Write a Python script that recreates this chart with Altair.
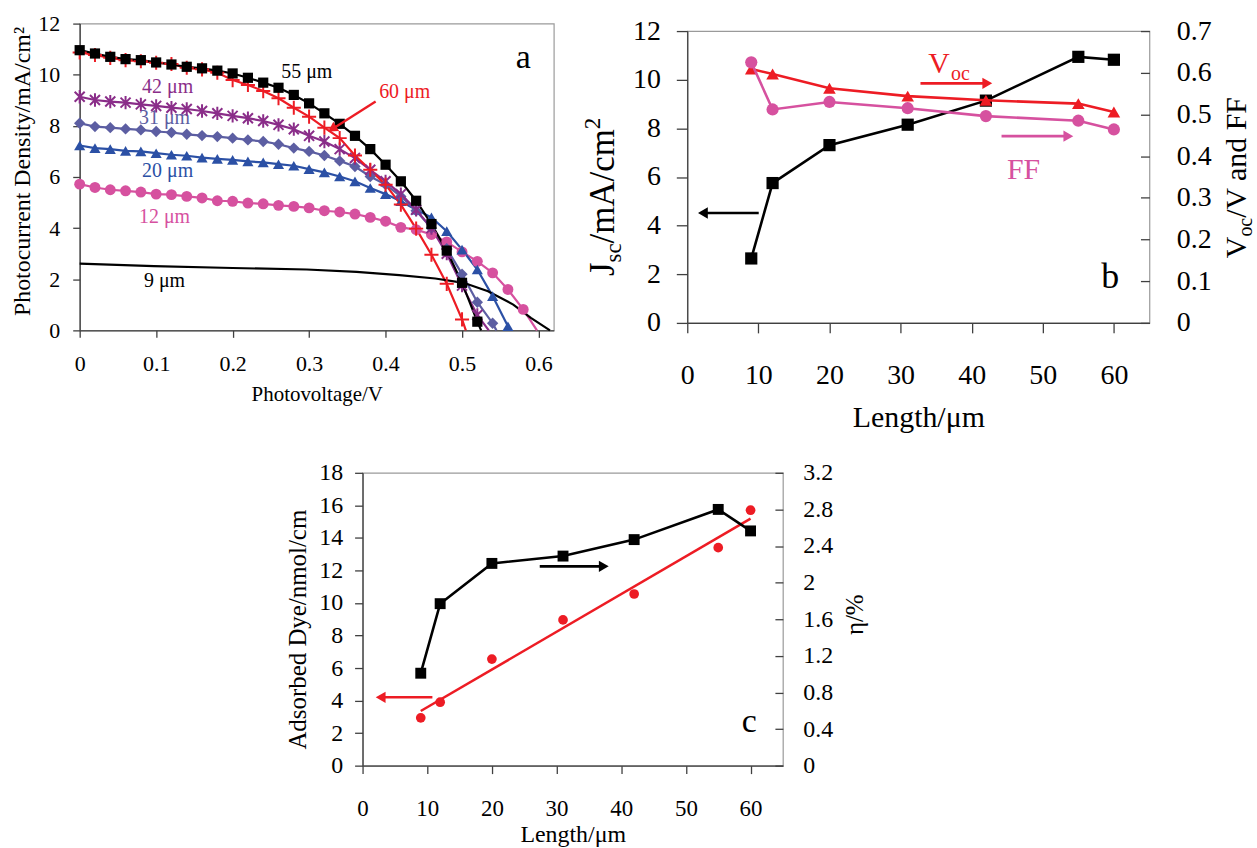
import math
import altair as alt
import pandas as pd

FONT = "Liberation Serif"
BLACK = "#000000"
RED = "#ED1C24"
PURPLE = "#8A2D89"
SLATE = "#5C5EA2"
BLUE = "#2B50A5"
PINK = "#D6519F"
AXIS = "#404040"
BORDER = "#9A9A9A"

# ---------------- panel a data ----------------
V_STEPS = [0.00, 0.02, 0.04, 0.06, 0.08, 0.10, 0.12, 0.14, 0.16, 0.18, 0.20,
           0.22, 0.24, 0.26, 0.28, 0.30, 0.32, 0.34, 0.36, 0.38, 0.40,
           0.42, 0.44, 0.46, 0.48, 0.50, 0.52, 0.54, 0.56, 0.58]
J_55 = [10.96, 10.83, 10.70, 10.61, 10.57, 10.48, 10.40, 10.31, 10.25, 10.16, 10.05,
        9.88, 9.69, 9.49, 9.21, 8.88, 8.49, 8.08, 7.61, 7.09, 6.48,
        5.83, 5.07, 4.16, 3.12, 1.86, 0.34]
J_60 = [10.87, 10.77, 10.66, 10.57, 10.53, 10.47, 10.42, 10.27, 10.21, 10.08, 9.79,
        9.60, 9.36, 9.08, 8.71, 8.36, 7.93, 7.52, 6.84, 6.28, 5.70,
        4.92, 3.98, 2.96, 1.82, 0.43]
J_42 = [9.14, 9.01, 8.95, 8.91, 8.84, 8.78, 8.71, 8.66, 8.58, 8.49, 8.39,
        8.30, 8.19, 8.04, 7.87, 7.61, 7.39, 7.09, 6.74, 6.28, 5.83,
        5.33, 4.72, 4.00, 3.00, 1.75, 0.60]
J_31 = [8.10, 7.97, 7.93, 7.88, 7.84, 7.78, 7.74, 7.67, 7.62, 7.58, 7.52,
        7.45, 7.39, 7.28, 7.13, 7.00, 6.84, 6.63, 6.41, 6.02, 5.70,
        5.24, 4.68, 4.00, 3.20, 2.20, 1.10, 0.28]
J_20 = [7.23, 7.13, 7.09, 7.02, 7.00, 6.93, 6.87, 6.83, 6.76, 6.71, 6.67,
        6.61, 6.57, 6.50, 6.44, 6.31, 6.18, 6.02, 5.83, 5.57, 5.33,
        5.05, 4.72, 4.42, 3.88, 3.16, 2.38, 1.34, 0.16]
J_12 = [5.72, 5.59, 5.50, 5.46, 5.41, 5.33, 5.31, 5.24, 5.18, 5.07, 5.05,
        4.98, 4.95, 4.89, 4.85, 4.79, 4.68, 4.63, 4.55, 4.42, 4.27,
        4.03, 3.94, 3.75, 3.46, 3.07, 2.70, 2.25, 1.60, 0.82]
VOC_A = {"55 μm": 0.525, "60 μm": 0.505, "42 μm": 0.535, "31 μm": 0.545,
         "20 μm": 0.562, "12 μm": 0.598}
V_9 = [0.0, 0.097, 0.2, 0.297, 0.362, 0.418, 0.465, 0.502, 0.534, 0.567, 0.59, 0.615]
J_9 = [2.61, 2.51, 2.44, 2.38, 2.29, 2.16, 2.03, 1.86, 1.53, 1.01, 0.49, 0.0]

A_LABELS = ["55 μm", "60 μm", "42 μm", "31 μm", "20 μm", "12 μm", "9 μm"]
A_LABEL_V = [0.297, 0.425, 0.115, 0.111, 0.115, 0.111, 0.111]
A_LABEL_J = [10.12, 9.31, 9.53, 8.30, 6.24, 4.42, 1.92]

# ---------------- panel b data ----------------
LENGTH = [9, 12, 20, 31, 42, 55, 60]
JSC = [2.65, 5.75, 7.31, 8.15, 9.14, 10.94, 10.82]
VOC = [0.609, 0.597, 0.563, 0.544, 0.534, 0.526, 0.506]
FF = [0.625, 0.512, 0.530, 0.515, 0.496, 0.485, 0.464]

# ---------------- panel c data ----------------
DYE = [2.94, 3.90, 6.55, 8.96, 10.55, 13.40, 15.70]
ETA = [1.01, 1.77, 2.21, 2.29, 2.47, 2.80, 2.565]

A_XTICKS = [0, 0.1, 0.2, 0.3, 0.4, 0.5, 0.6]
A_YTICKS = [0, 2, 4, 6, 8, 10, 12]
L_TICKS = [0, 10, 20, 30, 40, 50, 60]
B_RTICKS = [0, 0.1, 0.2, 0.3, 0.4, 0.5, 0.6, 0.7]
C_YTICKS = [0, 2, 4, 6, 8, 10, 12, 14, 16, 18]
C_RTICKS = [0, 0.4, 0.8, 1.2, 1.6, 2.0, 2.4, 2.8, 3.2]

W_A, H_A = 476, 308
W_B, H_B = 464, 293
W_C, H_C = 422, 294

CHAR_W = {"J": 0.389, "s": 0.389, "c": 0.444, "/": 0.278, "m": 0.778, "A": 0.722,
          "2": 0.5, "²": 0.3, "V": 0.722, "o": 0.5, " ": 0.25, "a": 0.444, "n": 0.5,
          "d": 0.5, "F": 0.556}


def text_width(s, size):
    return sum(CHAR_W.get(ch, 0.5) for ch in s) * size


def one(**kw):
    return pd.DataFrame([kw])


def rotated_title(pieces, x_base, y_start):
    layers = []
    y = y_start
    for txt, size, shift in pieces:
        layers.append(
            alt.Chart(one(t=txt)).mark_text(font=FONT, fontSize=size, angle=270, align="left",
                                            baseline="alphabetic", color="black")
            .encode(x=alt.value(x_base + shift), y=alt.value(y), text="t:N"))
        y -= text_width(txt, size)
    return layers


# ================= panel a =================
xa = alt.X("V:Q", scale=alt.Scale(domain=[0, 0.62], nice=False, zero=False),
           axis=alt.Axis(values=A_XTICKS, format="~g", title="Photovoltage/V", tickSize=7,
                         labelPadding=16, labelFontSize=22, titleFontSize=21, titleY=64,
                         titleBaseline="middle"))
ya = alt.Y("J:Q", scale=alt.Scale(domain=[0, 12], nice=False),
           axis=alt.Axis(values=A_YTICKS, title="Photocurrent Density/mA/cm²", tickSize=7,
                         labelPadding=13, labelFontSize=22, titleFontSize=24, titleAngle=270,
                         titleX=-57, titleY=148, titleAlign="center", titleBaseline="middle"))

A_SERIES = [
    ("12 μm", J_12, PINK, dict(shape="circle", filled=True, size=120)),
    ("20 μm", J_20, BLUE, dict(shape="triangle-up", filled=True, size=125)),
    ("31 μm", J_31, SLATE, dict(shape="diamond", filled=True, size=130)),
    ("42 μm", J_42, PURPLE, dict(shape="M0,-1L0,1M-0.75,-0.75L0.75,0.75M-0.75,0.75L0.75,-0.75",
                                 filled=False, size=180, strokeWidth=2)),
    ("60 μm", J_60, RED, dict(shape="M-1,0L1,0M0,-1L0,1", filled=False, size=200, strokeWidth=2)),
    ("55 μm", J_55, BLACK, dict(shape="square", filled=True, size=105)),
]

line_rows, pt_rows = [], []
for name, js, col, _ in A_SERIES:
    for v, j in zip(V_STEPS, js):
        line_rows.append(dict(s=name, V=v, J=j))
        pt_rows.append(dict(s=name, V=v, J=j))
    line_rows.append(dict(s=name, V=VOC_A[name], J=0.0))
for v, j in zip(V_9, J_9):
    line_rows.append(dict(s="9 μm", V=v, J=j))
df_a_lines = pd.DataFrame(line_rows)
df_a_pts = pd.DataFrame(pt_rows)

a_names = [s[0] for s in A_SERIES] + ["9 μm"]
a_cols = [s[2] for s in A_SERIES] + [BLACK]

a_label_cols = [BLACK, RED, PURPLE, SLATE, BLUE, PINK, BLACK]
df_a_lab = pd.DataFrame({"t": A_LABELS, "V": A_LABEL_V, "J": A_LABEL_J, "c": a_label_cols})

a_layers = [
    alt.Chart(df_a_lab).mark_text(font=FONT, fontSize=20, align="center", baseline="middle")
    .encode(x=xa, y=ya, text="t:N", color=alt.Color("c:N", scale=None)),
    alt.Chart(df_a_lines).mark_line(strokeWidth=2.2).encode(
        x=xa, y=ya,
        color=alt.Color("s:N", scale=alt.Scale(domain=a_names, range=a_cols), legend=None)),
]
for name, js, col, spec in A_SERIES:
    sub = df_a_pts[df_a_pts.s == name]
    if spec["filled"]:
        mk = alt.Chart(sub).mark_point(shape=spec["shape"], filled=True, size=spec["size"],
                                       color=col, opacity=1)
    else:
        mk = alt.Chart(sub).mark_point(shape=spec["shape"], filled=False, size=spec["size"],
                                       stroke=col, strokeWidth=spec["strokeWidth"], opacity=1)
    a_layers.append(mk.encode(x=xa, y=ya))

# arrow for 60 um label
ARR_A = dict(V=0.387, J=8.95, V2=0.332, J2=7.91)
px_x = W_A / 0.62
px_y = H_A / 12
ddx = (ARR_A["V2"] - ARR_A["V"]) * px_x
ddy = -(ARR_A["J2"] - ARR_A["J"]) * px_y
head_angle = (math.degrees(math.atan2(ddx, -ddy)) + 360) % 360
a_layers.append(alt.Chart(one(**ARR_A)).mark_rule(color=RED, strokeWidth=2.4)
                .encode(x=xa, y=ya, x2="V2:Q", y2="J2:Q"))
a_layers.append(alt.Chart(one(V=ARR_A["V2"], J=ARR_A["J2"])).mark_point(
    shape="triangle", filled=True, size=120, color=RED, opacity=1, angle=head_angle)
    .encode(x=xa, y=ya))
a_layers.append(alt.Chart(one(V=0.58, J=10.64, t="a")).mark_text(
    font=FONT, fontSize=34, align="center", baseline="middle", color="black")
    .encode(x=xa, y=ya, text="t:N"))

panel_a = alt.layer(*a_layers).properties(width=W_A, height=H_A)

# ================= panel b =================
xb = alt.X("L:Q", scale=alt.Scale(domain=[0, 65], nice=False, zero=False),
           axis=alt.Axis(values=L_TICKS, title="Length/μm", tickSize=10, labelPadding=29,
                         labelFontSize=28, titleFontSize=30, titleY=95, titleBaseline="middle"))
ybl = alt.Y("v:Q", scale=alt.Scale(domain=[0, 12], nice=False),
            axis=alt.Axis(orient="left", values=A_YTICKS, title=None, tickSize=11,
                          labelPadding=16, labelFontSize=28))
ybr = alt.Y("v:Q", scale=alt.Scale(domain=[0, 0.7], nice=False),
            axis=alt.Axis(orient="right", values=B_RTICKS, format="~g", title=None, tickSize=9,
                          labelPadding=27, offset=-9, domain=False, labelFontSize=28))

df_jsc = pd.DataFrame({"L": LENGTH, "v": JSC})
df_voc = pd.DataFrame({"L": LENGTH, "v": VOC})
df_ff = pd.DataFrame({"L": LENGTH, "v": FF})


def arrow(x1, x2, y, col, xe, ye, direction):
    shape = "triangle-right" if direction == "right" else "triangle-left"
    return [
        alt.Chart(one(L=x1, L2=x2, v=y)).mark_rule(color=col, strokeWidth=2.6)
        .encode(x=xe, x2="L2:Q", y=ye),
        alt.Chart(one(L=x2, v=y)).mark_point(shape=shape, filled=True, size=130, color=col,
                                             opacity=1).encode(x=xe, y=ye),
    ]


b_left_layers = [
    alt.Chart(df_jsc).mark_line(color=BLACK, strokeWidth=2.6).encode(x=xb, y=ybl),
    alt.Chart(df_jsc).mark_point(shape="square", filled=True, size=150, color=BLACK, opacity=1)
    .encode(x=xb, y=ybl),
]
b_left_layers += arrow(10.05, 2.2, 4.52, BLACK, xb, ybl, "left")
b_left_layers += arrow(32.8, 42.2, 9.85, RED, xb, ybl, "right")
b_left_layers += arrow(44.2, 53.6, 7.68, PINK, xb, ybl, "right")
b_left_layers += [
    alt.Chart(one(L=33.9, v=10.26, t="V")).mark_text(font=FONT, fontSize=30, align="left",
                                                    baseline="alphabetic", color=RED)
    .encode(x=xb, y=ybl, text="t:N"),
    alt.Chart(one(L=37.1, v=10.0, t="oc")).mark_text(font=FONT, fontSize=20, align="left",
                                                    baseline="alphabetic", color=RED)
    .encode(x=xb, y=ybl, text="t:N"),
    alt.Chart(one(L=47.3, v=6.3, t="FF")).mark_text(font=FONT, fontSize=30, align="center",
                                                   baseline="middle", color=PINK)
    .encode(x=xb, y=ybl, text="t:N"),
    alt.Chart(one(L=59.5, v=1.9, t="b")).mark_text(font=FONT, fontSize=36, align="center",
                                                  baseline="middle", color=BLACK)
    .encode(x=xb, y=ybl, text="t:N"),
]
b_left_layers += rotated_title([("J", 35, 0), ("sc", 23, 7), ("/mA/cm", 35, 0), ("2", 23, -14)],
                               -74, 246)

b_right_layers = [
    alt.Chart(df_voc).mark_line(color=RED, strokeWidth=2.6).encode(x=xb, y=ybr),
    alt.Chart(df_voc).mark_point(shape="triangle-up", filled=True, size=160, color=RED, opacity=1)
    .encode(x=xb, y=ybr),
    alt.Chart(df_ff).mark_line(color=PINK, strokeWidth=2.6).encode(x=xb, y=ybr),
    alt.Chart(df_ff).mark_point(shape="circle", filled=True, size=150, color=PINK, opacity=1)
    .encode(x=xb, y=ybr),
]
b_right_layers += rotated_title([("V", 30, 0), ("oc", 20, 6), ("/V and FF", 30, 0)],
                                W_B + 97, 228)

panel_b = alt.layer(alt.layer(*b_left_layers), alt.layer(*b_right_layers)) \
    .resolve_scale(y="independent").properties(width=W_B, height=H_B)

# ================= panel c =================
xc = alt.X("L:Q", scale=alt.Scale(domain=[0, 65], nice=False, zero=False),
           axis=alt.Axis(values=L_TICKS, title="Length/μm", tickSize=8, labelPadding=24,
                         labelFontSize=23, titleFontSize=24, titleY=69, titleBaseline="middle"))
ycl = alt.Y("v:Q", scale=alt.Scale(domain=[0, 18], nice=False),
            axis=alt.Axis(orient="left", values=C_YTICKS, title="Adsorbed Dye/nmol/cm",
                          tickSize=8, labelPadding=12, labelFontSize=24, titleFontSize=25,
                          titleAngle=270, titleX=-65, titleY=157, titleAlign="center",
                          titleBaseline="middle"))
ycr = alt.Y("v:Q", scale=alt.Scale(domain=[0, 3.2], nice=False),
            axis=alt.Axis(orient="right", values=C_RTICKS, format="~g", title="η/%",
                          tickSize=8, labelPadding=20, offset=-8, domain=False,
                          labelFontSize=24, titleFontSize=25, titleAngle=270, titleX=80,
                          titleY=142, titleAlign="center", titleBaseline="middle"))

df_dye = pd.DataFrame({"L": LENGTH, "v": DYE})
df_eta = pd.DataFrame({"L": LENGTH, "v": ETA})

c_left_layers = [
    alt.Chart(df_dye).transform_regression("L", "v").mark_line(color=RED, strokeWidth=2.5)
    .encode(x=xc, y=ycl),
    alt.Chart(df_dye).mark_point(shape="circle", filled=True, size=95, color=RED, opacity=1)
    .encode(x=xc, y=ycl),
]
c_left_layers += arrow(10.8, 2.8, 4.2, RED, xc, ycl, "left")
c_left_layers += arrow(27.4, 37.3, 12.25, BLACK, xc, ycl, "right")
c_left_layers.append(
    alt.Chart(one(L=59.8, v=2.7, t="c")).mark_text(font=FONT, fontSize=34, align="center",
                                                  baseline="middle", color=BLACK)
    .encode(x=xc, y=ycl, text="t:N"))

c_right_layers = [
    alt.Chart(df_eta).mark_line(color=BLACK, strokeWidth=2.6).encode(x=xc, y=ycr),
    alt.Chart(df_eta).mark_point(shape="square", filled=True, size=120, color=BLACK, opacity=1)
    .encode(x=xc, y=ycr),
]

panel_c = alt.layer(alt.layer(*c_left_layers), alt.layer(*c_right_layers)) \
    .resolve_scale(y="independent").properties(width=W_C, height=H_C)

spacer = alt.Chart(one(z=0)).mark_point(opacity=0).encode(
    x=alt.value(0), y=alt.value(0)).properties(
    width=264, height=10, view=alt.ViewBackground(strokeOpacity=0))

row1 = alt.hconcat(panel_a, panel_b, spacing=134, bounds="flush", center=True)
row2 = alt.hconcat(spacer, panel_c, spacing=20, bounds="flush")

chart = alt.vconcat(row1, row2, spacing=26, bounds="full").properties(
    padding={"left": 10, "top": 10, "right": 0, "bottom": 0}
).configure_view(stroke=BORDER, strokeWidth=1.2).configure_axis(
    labelFont=FONT, titleFont=FONT, labelColor="black", titleColor="black",
    titleFontWeight="normal", grid=False, domainColor=AXIS, tickColor=AXIS,
    domainWidth=1.3, tickWidth=1.3, labelFlush=False, labelOverlap=False
).configure_text(font=FONT)

chart.save("out.html", embed_options={"renderer": "svg", "actions": False})
